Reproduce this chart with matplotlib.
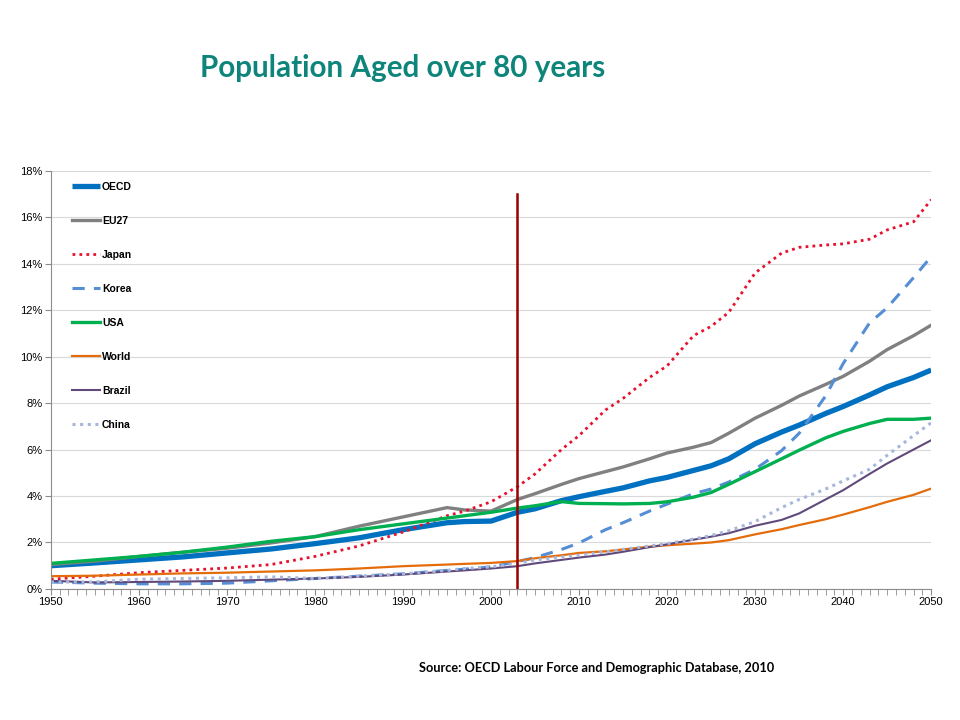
import matplotlib
matplotlib.use('Agg')
import matplotlib.pyplot as plt
from matplotlib.ticker import MultipleLocator, FuncFormatter

plt.rcParams['font.family'] = ['Liberation Sans', 'DejaVu Sans']

# Share of population aged 80+ (%)
years = [1950, 1955, 1960, 1965, 1970, 1975, 1980, 1985, 1990, 1995, 1997, 2000,
         2003, 2005, 2008, 2010, 2013, 2015, 2018, 2020, 2023, 2025, 2027, 2030,
         2033, 2035, 2038, 2040, 2043, 2045, 2048, 2050]

oecd = [1.0, 1.12, 1.25, 1.38, 1.55, 1.72, 1.95, 2.2, 2.55, 2.85, 2.9, 2.92,
        3.3, 3.45, 3.8, 3.97, 4.2, 4.35, 4.65, 4.8, 5.1, 5.3, 5.6, 6.25,
        6.75, 7.05, 7.55, 7.85, 8.35, 8.7, 9.1, 9.42]
eu27 = [1.05, 1.2, 1.4, 1.58, 1.75, 1.98, 2.25, 2.7, 3.1, 3.5, 3.4, 3.35,
        3.85, 4.1, 4.5, 4.75, 5.05, 5.25, 5.6, 5.85, 6.1, 6.3, 6.7, 7.35,
        7.9, 8.3, 8.8, 9.15, 9.8, 10.3, 10.9, 11.35]
japan = [0.42, 0.55, 0.7, 0.8, 0.9, 1.05, 1.4, 1.85, 2.45, 3.15, 3.35, 3.75,
         4.4, 4.95, 6.0, 6.6, 7.7, 8.2, 9.1, 9.6, 10.9, 11.3, 11.9, 13.6,
         14.45, 14.7, 14.8, 14.85, 15.05, 15.45, 15.8, 16.75]
korea = [0.3, 0.25, 0.22, 0.22, 0.25, 0.35, 0.45, 0.55, 0.65, 0.8, 0.85, 0.95,
         1.18, 1.35, 1.7, 1.98, 2.55, 2.85, 3.35, 3.65, 4.1, 4.3, 4.6, 5.15,
         5.95, 6.7, 8.3, 9.7, 11.45, 12.1, 13.4, 14.3]
usa = [1.1, 1.25, 1.4, 1.58, 1.8, 2.05, 2.25, 2.55, 2.8, 3.05, 3.15, 3.3,
       3.48, 3.58, 3.76, 3.68, 3.67, 3.66, 3.68, 3.75, 3.95, 4.15, 4.5, 5.05,
       5.6, 5.97, 6.5, 6.78, 7.12, 7.3, 7.3, 7.35]
world = [0.55, 0.57, 0.62, 0.67, 0.7, 0.75, 0.8, 0.88, 0.98, 1.05, 1.08, 1.12,
         1.2, 1.32, 1.45, 1.55, 1.62, 1.7, 1.82, 1.88, 1.95, 2.0, 2.1, 2.35,
         2.57, 2.75, 3.0, 3.2, 3.52, 3.75, 4.05, 4.32]
brazil = [0.35, 0.28, 0.3, 0.32, 0.35, 0.4, 0.45, 0.52, 0.62, 0.75, 0.8, 0.88,
          0.98, 1.1, 1.25, 1.35, 1.48, 1.6, 1.8, 1.92, 2.12, 2.25, 2.4, 2.72,
          2.97, 3.25, 3.85, 4.25, 4.95, 5.4, 6.0, 6.4]
china = [0.3, 0.3, 0.42, 0.45, 0.48, 0.52, 0.45, 0.55, 0.65, 0.8, 0.88, 0.95,
         1.1, 1.25, 1.38, 1.45, 1.6, 1.7, 1.85, 1.95, 2.15, 2.3, 2.5, 2.9,
         3.5, 3.85, 4.3, 4.65, 5.15, 5.75, 6.6, 7.15]

marker_year = 2003

fig = plt.figure(figsize=(9.6, 7.2), dpi=100)
ax = fig.add_axes([0.053, 0.182, 0.917, 0.581])

ax.plot(years, oecd, color='#0070C0', lw=3.8, label='OECD', solid_capstyle='butt')
ax.plot(years, eu27, color='#808080', lw=2.4, label='EU27')
ax.plot(years, japan, color='#E8112D', lw=2.0, ls=(0, (1, 1.5)), label='Japan')
ax.plot(years, korea, color='#558ED5', lw=2.2, ls=(0, (4, 3)), label='Korea')
ax.plot(years, usa, color='#00B050', lw=2.4, label='USA')
ax.plot(years, world, color='#E46C0A', lw=1.6, label='World')
ax.plot(years, brazil, color='#604A7B', lw=1.5, label='Brazil')
ax.plot(years, china, color='#A6B6DC', lw=2.2, ls=(0, (1, 1.5)), label='China')

ax.plot([marker_year, marker_year], [0, 17], color='#990000', lw=1.8)

ax.set_xlim(1950, 2050)
ax.set_ylim(0, 18)
ax.xaxis.set_major_locator(MultipleLocator(10))
ax.xaxis.set_minor_locator(MultipleLocator(1))
ax.yaxis.set_major_locator(MultipleLocator(2))
ax.yaxis.set_major_formatter(FuncFormatter(lambda v, p: f'{v:.0f}%'))

ax.grid(axis='y', color='#D9D9D9', lw=0.8)
ax.set_axisbelow(True)
for s in ['top', 'right']:
    ax.spines[s].set_visible(False)
for s in ['left', 'bottom']:
    ax.spines[s].set_color('#8C8C8C')
ax.tick_params(axis='both', which='both', direction='out', color='#8C8C8C',
               labelsize=8)
ax.tick_params(axis='x', which='major', length=4, pad=2)
ax.tick_params(axis='x', which='minor', length=4)
ax.tick_params(axis='y', length=4, pad=2)

leg = ax.legend(loc='upper left', bbox_to_anchor=(0.013, 0.995), frameon=False,
                handlelength=2.7, handletextpad=0.2, labelspacing=2.3,
                prop={'family': 'Liberation Sans', 'weight': 'bold', 'size': 7.5})

fig.text(0.419, 0.906, 'Population Aged over 80 years', ha='center', va='center',
         fontsize=21.3, fontweight='bold', color='#0E857A', family='Lato')
fig.text(0.621, 0.072, 'Source: OECD Labour Force and Demographic Database, 2010',
         ha='center', va='center', fontsize=9.2, fontweight='bold', family='Lato')

fig.savefig('out.png', dpi=100)
